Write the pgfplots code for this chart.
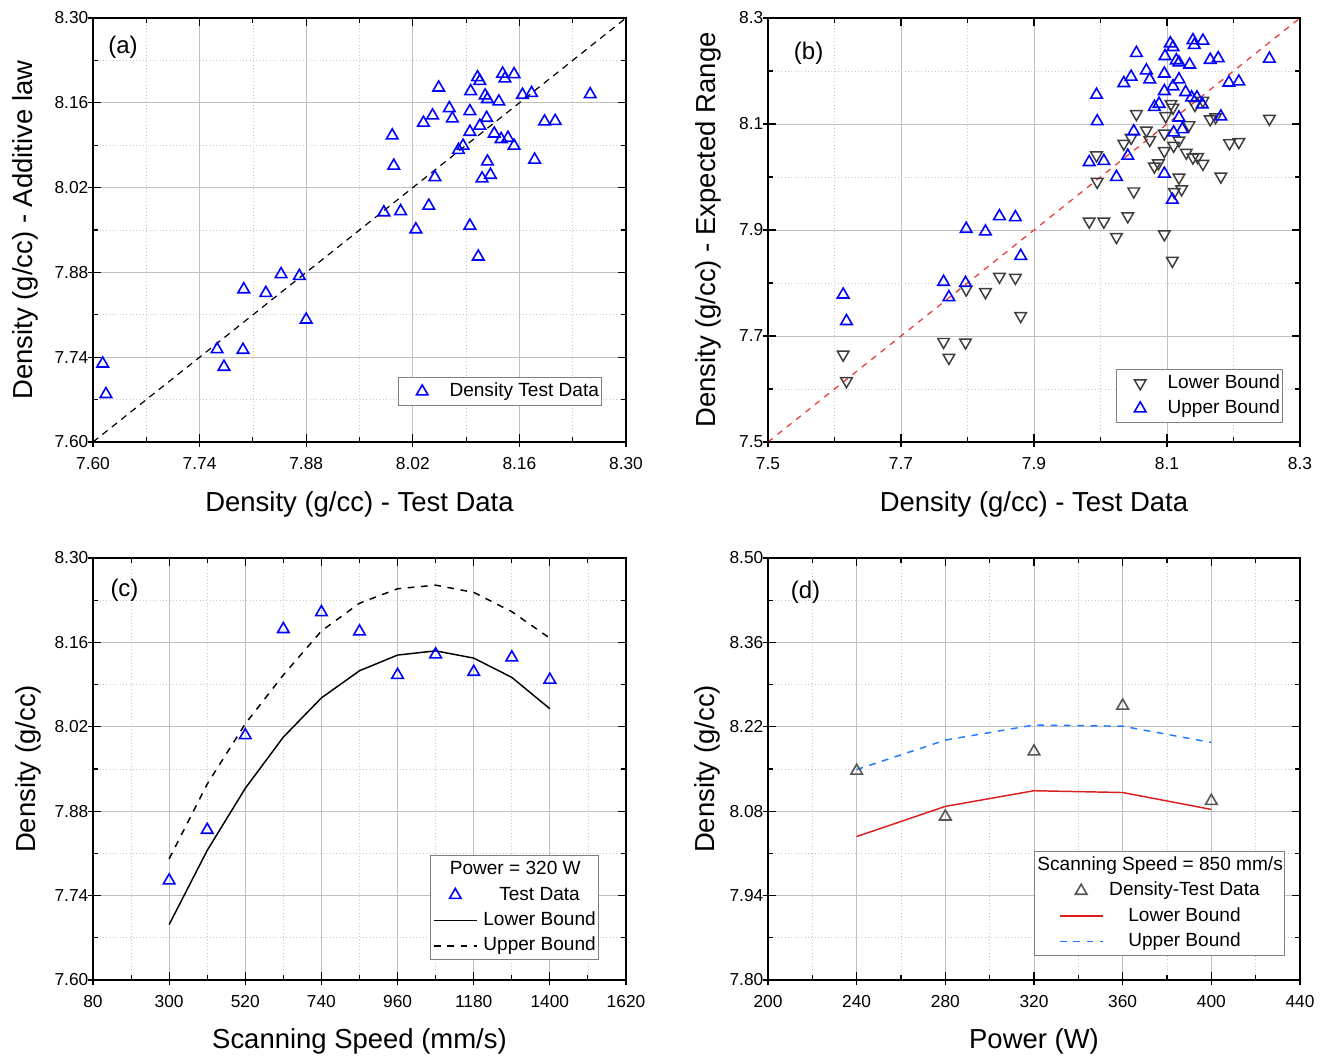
\documentclass[border=0pt]{standalone}
\usepackage{fontspec}
\setmainfont{Liberation Sans}
\usepackage{pgfplots}
\pgfplotsset{compat=1.18}
\definecolor{mblue}{RGB}{0,0,255}
\definecolor{mgray}{RGB}{60,60,60}
\definecolor{dgray}{RGB}{85,85,85}
\definecolor{lred}{RGB}{220,30,30}
\definecolor{lblue}{RGB}{30,120,255}
\definecolor{dred}{RGB}{235,50,50}
\tikzset{plabel/.style={anchor=west, font=\fontsize{18}{20}\selectfont}}
\pgfplotsset{
  panel/.style={
    scale only axis,
    axis line style={line width=1pt},
    grid=both,
    major grid style={line width=0.6pt, color=black!25},
    minor grid style={line width=0.5pt, color=black!22, dotted},
    minor x tick num=1, minor y tick num=1,
    tick align=inside,
    major tick length=6pt, minor tick length=3.5pt,
    tick style={line width=0.8pt, black},
    tick label style={font=\fontsize{13}{15}\selectfont},
    /pgf/number format/assume math mode=true,
    /pgf/number format/1000 sep={},
    xticklabel style={yshift=-8pt},
    label style={font=\fontsize{20.6}{24}\selectfont},
    xlabel style={at={(axis description cs:0.5,-0.163)}, anchor=base},
    legend cell align=center,
    legend style={draw=black!50, line width=0.6pt, fill=white, inner xsep=2pt, inner ysep=1pt,
      column sep=4.5pt,
      nodes={inner xsep=0pt, inner ysep=2.75pt, text height=10.5pt, text depth=3pt,
             font=\fontsize{14.3}{17}\selectfont}},
  },
  outt/.style={
    scale only axis, axis lines*=left, tick align=outside,
    axis line style={line width=1pt},
    major tick length=4pt, minor x tick num=0, minor y tick num=0,
    tick style={line width=0.8pt, black},
    xticklabels={}, yticklabels={},
  },
  lin/.style={legend image code/.code={\draw[##1] (0pt,0pt) -- (32pt,0pt);}},
  tri/.style={only marks, mark=triangle, mark size=5pt, forget plot},
  mleg/.style={mark=triangle, mark size=5pt,
    legend image code/.code={\path[draw=none,fill=none] (0pt,0pt) (32pt,0pt);
      \draw[##1] plot coordinates {(16pt,0pt)};}},
}
\begin{document}
\begin{tikzpicture}
\path[use as bounding box] (0pt,0pt) rectangle (996pt,-792.75pt);

% ---------------- (a)
\begin{axis}[panel, at={(69.75pt,-331.5pt)}, anchor=south west,
  width=399.75pt, height=318pt,
  xmin=7.60, xmax=8.30, ymin=7.60, ymax=8.30,
  xtick={7.60,7.74,7.88,8.02,8.16,8.30},
  ytick={7.60,7.74,7.88,8.02,8.16,8.30},
  xticklabel style={/pgf/number format/.cd, fixed, fixed zerofill, precision=2},
  yticklabel style={/pgf/number format/.cd, fixed, fixed zerofill, precision=2},
  xlabel={Density (g/cc) - Test Data},
  ylabel={Density (g/cc) - Additive law},
  ylabel style={at={(axis description cs:-0.114,0.5)}, anchor=base},
  legend style={at={(axis description cs:0.955,0.085)}, anchor=south east},
]
\addplot[black, line width=0.9pt, dash pattern=on 5pt off 4pt, forget plot] coordinates {(7.60,7.60) (8.30,8.30)};
\addplot[tri, mblue, mark options={line width=1.2pt, solid}] coordinates {
(7.6127,7.7294) (7.617,7.679) (7.763,7.753) (7.772,7.724) (7.797,7.752)
(7.798,7.852) (7.827,7.846) (7.847,7.877) (7.871,7.874) (7.880,7.802)
(7.982,7.979) (8.004,7.981) (7.993,8.106) (7.995,8.056) (8.024,7.951)
(8.041,7.990) (8.049,8.037) (8.034,8.127) (8.046,8.139) (8.054,8.185)
(8.068,8.151) (8.072,8.134) (8.080,8.082) (8.086,8.089) (8.095,8.146)
(8.095,8.112) (8.095,7.957) (8.096,8.179) (8.105,8.202) (8.108,8.196)
(8.106,7.906) (8.108,8.122) (8.111,8.035) (8.115,8.172) (8.117,8.135)
(8.118,8.166) (8.118,8.063) (8.122,8.041) (8.127,8.109) (8.133,8.162)
(8.136,8.100) (8.138,8.208) (8.141,8.200) (8.145,8.102) (8.153,8.207)
(8.153,8.089) (8.164,8.173) (8.176,8.176) (8.180,8.066) (8.193,8.129)
(8.207,8.130) (8.253,8.174)};
\addlegendimage{mleg, mblue, mark options={line width=1.2pt, solid}}
\addlegendentry{Density Test Data}
\node[plabel] at (axis description cs:0.02,0.932) {(a)};
\end{axis}
\begin{axis}[outt, at={(69.75pt,-331.5pt)}, anchor=south west,
  width=399.75pt, height=318pt,
  xmin=7.60, xmax=8.30, ymin=7.60, ymax=8.30,
  xtick={7.60,7.74,7.88,8.02,8.16,8.30},
  ytick={7.60,7.74,7.88,8.02,8.16,8.30}]
\end{axis}

% ---------------- (b)
\begin{axis}[panel, at={(576pt,-331.5pt)}, anchor=south west,
  width=399pt, height=318pt,
  xmin=7.5, xmax=8.3, ymin=7.5, ymax=8.3,
  xtick={7.5,7.7,7.9,8.1,8.3},
  ytick={7.5,7.7,7.9,8.1,8.3},
  xticklabel style={/pgf/number format/.cd, fixed, fixed zerofill, precision=1},
  yticklabel style={/pgf/number format/.cd, fixed, fixed zerofill, precision=1},
  xlabel={Density (g/cc) - Test Data},
  ylabel={Density (g/cc) - Expected Range},
  ylabel style={at={(axis description cs:-0.0996,0.5)}, anchor=base},
  legend style={at={(axis description cs:0.968,0.045)}, anchor=south east},
]
\addplot[dred, line width=0.9pt, dash pattern=on 4.5pt off 4.5pt, forget plot] coordinates {(7.5,7.5) (8.3,8.3)};
\addplot[tri, mgray, mark options={rotate=180, line width=1.1pt, solid}] coordinates {
(7.613,7.665) (7.618,7.615) (7.764,7.689) (7.772,7.659) (7.797,7.688)
(7.798,7.788) (7.827,7.783) (7.848,7.812) (7.872,7.810) (7.880,7.738)
(7.983,7.916) (8.005,7.916) (7.994,8.041) (7.995,7.991) (8.024,7.887)
(8.041,7.926) (8.050,7.973) (8.035,8.063) (8.046,8.074) (8.054,8.119)
(8.069,8.088) (8.074,8.070) (8.081,8.020) (8.087,8.026) (8.096,8.082)
(8.096,8.049) (8.096,7.892) (8.098,8.115) (8.106,8.138) (8.109,8.131)
(8.108,7.842) (8.110,8.059) (8.118,8.069) (8.118,7.999) (8.111,7.972)
(8.122,7.977) (8.133,8.098) (8.129,8.046) (8.139,8.037) (8.146,8.038)
(8.142,8.136) (8.154,8.144) (8.154,8.025) (8.165,8.109) (8.173,8.113)
(8.181,8.001) (8.194,8.064) (8.208,8.066) (8.254,8.110)};
\addplot[tri, mblue, mark options={line width=1.2pt, solid}] coordinates {
(7.613,7.778) (7.618,7.728) (7.764,7.802) (7.772,7.773) (7.797,7.800)
(7.798,7.902) (7.827,7.897) (7.848,7.926) (7.872,7.924) (7.880,7.851)
(7.983,8.028) (8.005,8.030) (7.994,8.155) (7.995,8.105) (8.024,8.000)
(8.041,8.040) (8.050,8.086) (8.035,8.177) (8.046,8.189) (8.054,8.234)
(8.069,8.201) (8.074,8.184) (8.081,8.132) (8.088,8.138) (8.096,8.195)
(8.096,8.162) (8.096,8.006) (8.097,8.228) (8.105,8.252) (8.109,8.245)
(8.108,7.957) (8.109,8.171) (8.110,8.084) (8.114,8.220) (8.118,8.184)
(8.118,8.216) (8.118,8.112) (8.123,8.090) (8.128,8.160) (8.134,8.212)
(8.137,8.150) (8.139,8.258) (8.141,8.249) (8.145,8.150) (8.154,8.257)
(8.153,8.137) (8.165,8.221) (8.177,8.224) (8.181,8.114) (8.193,8.178)
(8.208,8.180) (8.254,8.223)};
\addlegendimage{mleg, mgray, mark options={rotate=180, line width=1.1pt, solid}}
\addlegendentry{Lower Bound}
\addlegendimage{mleg, mblue, mark options={line width=1.2pt, solid}}
\addlegendentry{Upper Bound}
\node[plabel] at (axis description cs:0.04,0.916) {(b)};
\end{axis}
\begin{axis}[outt, at={(576pt,-331.5pt)}, anchor=south west,
  width=399pt, height=318pt,
  xmin=7.5, xmax=8.3, ymin=7.5, ymax=8.3,
  xtick={7.5,7.7,7.9,8.1,8.3}, ytick={7.5,7.7,7.9,8.1,8.3}]
\end{axis}

% ---------------- (c)
\begin{axis}[panel, at={(69.75pt,-735pt)}, anchor=south west,
  width=399.75pt, height=316.5pt,
  xmin=80, xmax=1620, ymin=7.60, ymax=8.30,
  xtick={80,300,520,740,960,1180,1400,1620},
  ytick={7.60,7.74,7.88,8.02,8.16,8.30},
  yticklabel style={/pgf/number format/.cd, fixed, fixed zerofill, precision=2},
  xlabel={Scanning Speed (mm/s)},
  ylabel={Density (g/cc)},
  ylabel style={at={(axis description cs:-0.107,0.5)}, anchor=base},
  legend style={at={(axis description cs:0.949,0.047)}, anchor=south east},
]
\addlegendimage{empty legend}
\addlegendentry{\makebox[0pt]{\hspace*{-36.5pt}Power = 320 W}}
\addplot[tri, mblue, mark options={line width=1.2pt, solid}] coordinates {
(300,7.765) (410,7.849) (520,8.006) (630,8.182) (740,8.210) (850,8.178)
(960,8.106) (1070,8.140) (1180,8.111) (1290,8.135) (1400,8.098)};
\addlegendimage{mleg, mblue, mark options={line width=1.2pt, solid}}
\addlegendentry{Test Data}
\addplot[lin, black, line width=1.1pt, mark=none] coordinates {
(300,7.692) (410,7.815) (520,7.918) (630,8.003) (740,8.068) (850,8.113)
(960,8.139) (1070,8.146) (1180,8.134) (1290,8.102) (1400,8.050)};
\addlegendentry{Lower Bound}
\addplot[lin, black, line width=1.1pt, mark=none, dash pattern=on 5pt off 5pt] coordinates {
(300,7.801) (410,7.925) (520,8.025) (630,8.106) (740,8.179) (850,8.225)
(960,8.249) (1070,8.255) (1180,8.243) (1290,8.211) (1400,8.167)};
\addlegendentry{Upper Bound}
\node[plabel] at (axis description cs:0.024,0.924) {(c)};
\end{axis}
\begin{axis}[outt, at={(69.75pt,-735pt)}, anchor=south west,
  width=399.75pt, height=316.5pt,
  xmin=80, xmax=1620, ymin=7.60, ymax=8.30,
  xtick={80,300,520,740,960,1180,1400,1620},
  ytick={7.60,7.74,7.88,8.02,8.16,8.30}]
\end{axis}

% ---------------- (d)
\begin{axis}[panel, at={(576pt,-735pt)}, anchor=south west,
  width=399pt, height=316.5pt,
  xmin=200, xmax=440, ymin=7.80, ymax=8.50,
  xtick={200,240,280,320,360,400,440},
  ytick={7.80,7.94,8.08,8.22,8.36,8.50},
  yticklabel style={/pgf/number format/.cd, fixed, fixed zerofill, precision=2},
  xlabel={Power (W)},
  ylabel={Density (g/cc)},
  ylabel style={at={(axis description cs:-0.101,0.5)}, anchor=base},
  legend style={at={(axis description cs:0.972,0.057)}, anchor=south east, inner xsep=18.75pt},
]
\addlegendimage{empty legend}
\addlegendentry{\makebox[0pt]{\hspace*{-36.5pt}Scanning Speed = 850 mm/s}}
\addplot[tri, dgray, mark options={line width=1.2pt, solid}] coordinates {
(240,8.147) (280,8.071) (320,8.179) (360,8.255) (400,8.097)};
\addlegendimage{mleg, dgray, mark options={line width=1.2pt, solid}}
\addlegendentry{Density-Test Data}
\addplot[lin, lred, line width=1.1pt, mark=none] coordinates {
(240,8.038) (280,8.088) (320,8.114) (360,8.111) (400,8.083)};
\addlegendentry{Lower Bound}
\addplot[lin, lblue, line width=1.1pt, mark=none, dash pattern=on 5pt off 5pt] coordinates {
(240,8.149) (280,8.198) (320,8.223) (360,8.221) (400,8.194)};
\addlegendentry{Upper Bound}
\node[plabel] at (axis description cs:0.034,0.918) {(d)};
\end{axis}
\begin{axis}[outt, at={(576pt,-735pt)}, anchor=south west,
  width=399pt, height=316.5pt,
  xmin=200, xmax=440, ymin=7.80, ymax=8.50,
  xtick={200,240,280,320,360,400,440},
  ytick={7.80,7.94,8.08,8.22,8.36,8.50}]
\end{axis}
\end{tikzpicture}
\end{document}
